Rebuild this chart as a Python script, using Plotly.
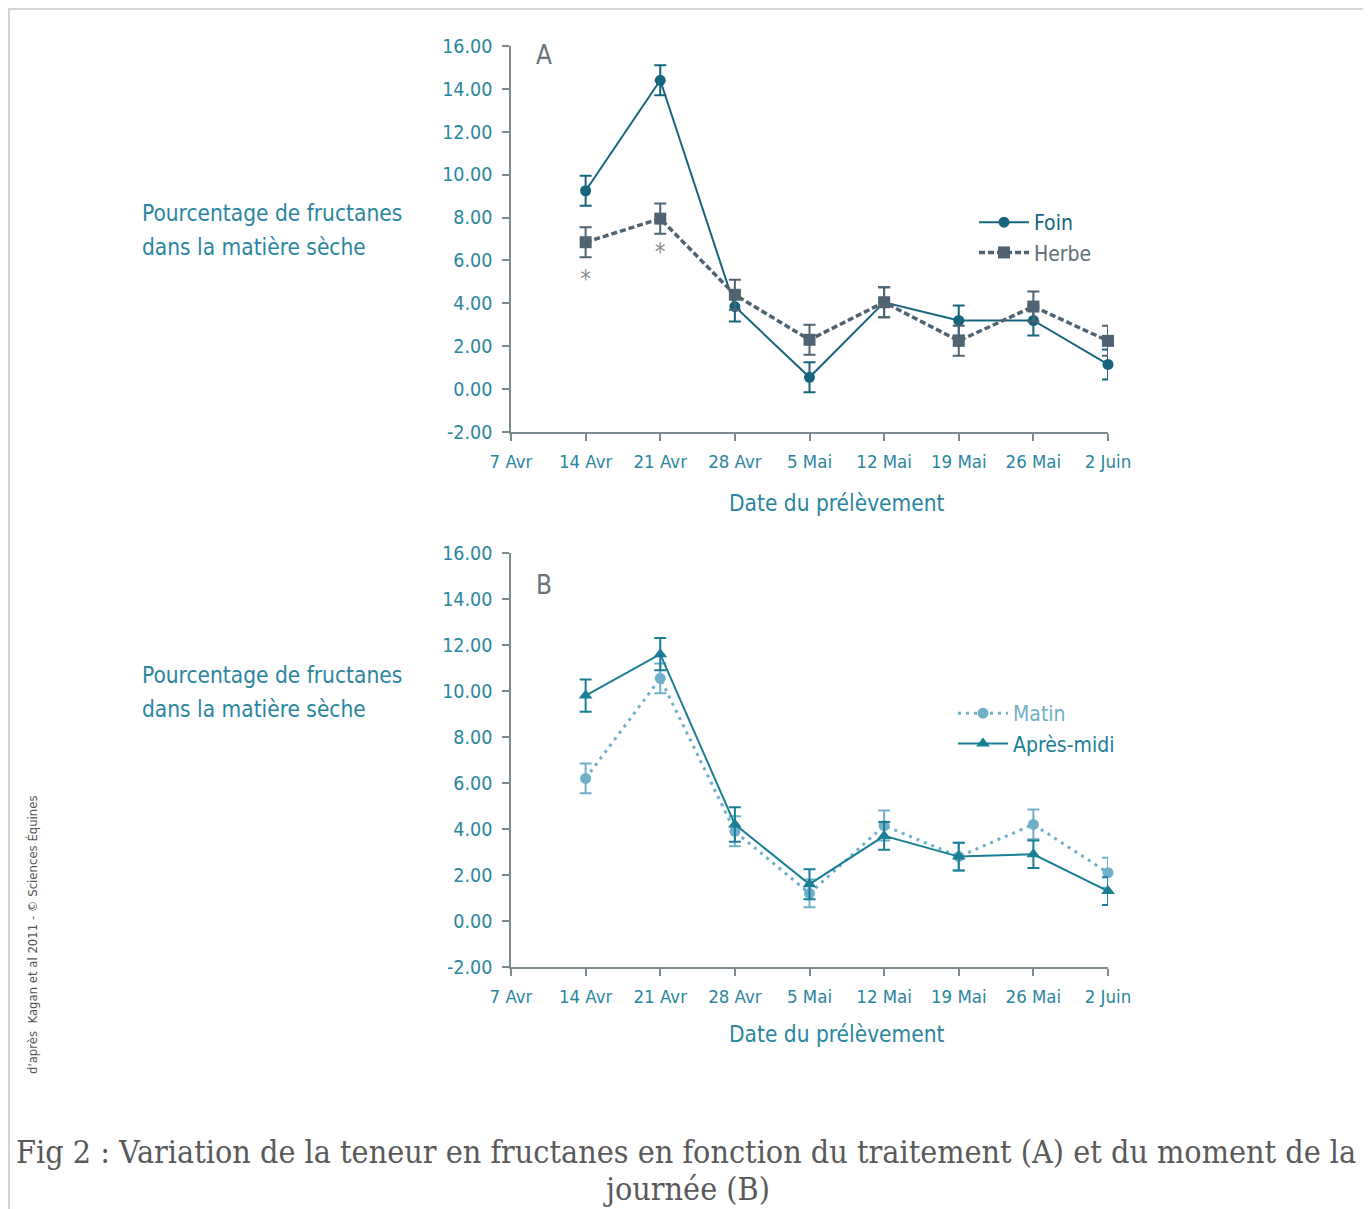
import plotly.graph_objects as go

# ---- data ----
dates = ["7 Avr", "14 Avr", "21 Avr", "28 Avr", "5 Mai", "12 Mai", "19 Mai", "26 Mai", "2 Juin"]
week_idx = [0, 1, 2, 3, 4, 5, 6, 7, 8]
sample_weeks = [1, 2, 3, 4, 5, 6, 7, 8]

foin = [9.25, 14.4, 3.85, 0.55, 4.05, 3.2, 3.2, 1.15]
foin_err = [0.7, 0.7, 0.7, 0.7, 0.7, 0.7, 0.7, 0.7]
herbe = [6.85, 7.95, 4.4, 2.3, 4.05, 2.25, 3.85, 2.25]
herbe_err = [0.7, 0.7, 0.7, 0.7, 0.7, 0.7, 0.7, 0.7]

matin = [6.2, 10.55, 3.9, 1.2, 4.15, 2.8, 4.2, 2.1]
matin_err = [0.65, 0.65, 0.65, 0.6, 0.65, 0.6, 0.65, 0.65]
apres = [9.8, 11.6, 4.2, 1.6, 3.7, 2.8, 2.9, 1.3]
apres_err = [0.7, 0.7, 0.75, 0.65, 0.6, 0.6, 0.6, 0.6]

star_x = [1, 2]
star_y = [5.05, 6.3]

y_ticks = [-2, 0, 2, 4, 6, 8, 10, 12, 14, 16]
y_ticktext = ["%.2f" % v for v in y_ticks]

# page offset (body margin) compensation
OX, OY = 8, 8
W, H = 1363, 1201
NARROW = "Liberation Sans Narrow, DejaVu Sans Condensed, Roboto, sans-serif"
SERIF = "DejaVu Serif Condensed, DejaVu Serif, serif"
TEAL = "#17657d"
TEAL_TXT = "#2a86a0"
GRAY = "#4f6470"
LIGHT = "#6fb0c8"
APM = "#1a7e96"
AXIS = "#7d8a90"


def px(x):
    return (x - OX) / W


def py(y):
    return 1 - (y - OY) / H


fig = go.Figure()


def add_series(name, y, err, color, symbol, size, dash, width, xaxis, yaxis, legend):
    fig.add_trace(go.Scatter(
        x=sample_weeks, y=y, name=name, mode="lines+markers",
        line=dict(color=color, width=width, dash=dash),
        marker=dict(color=color, symbol=symbol, size=size),
        error_y=dict(type="data", array=err, visible=True, color=color, thickness=2, width=6),
        xaxis=xaxis, yaxis=yaxis, legend=legend, cliponaxis=False,
    ))


add_series("<span style='color:%s'>Foin</span>" % TEAL, foin, foin_err, TEAL, "circle", 11, "solid", 2, "x", "y", "legend")
add_series("<span style='color:%s'>Herbe</span>" % "#5c6e78", herbe, herbe_err, GRAY, "square", 12, "6px,3px", 3.5, "x", "y", "legend")
add_series("<span style='color:%s'>Matin</span>" % LIGHT, matin, matin_err, LIGHT, "circle", 11, "3px,5px", 3, "x2", "y2", "legend2")
add_series("<span style='color:%s'>Après-midi</span>" % APM, apres, apres_err, APM, "triangle-up", 12, "solid", 2, "x2", "y2", "legend2")

# significance asterisks
fig.add_trace(go.Scatter(
    x=star_x, y=star_y, mode="text", text=["*", "*"],
    textfont=dict(family=NARROW, size=24, color="#8a8f92"),
    showlegend=False, xaxis="x", yaxis="y", cliponaxis=False,
))

xdom = [px(511), px(1108)]
common_x = dict(
    range=[0, 8], tickvals=week_idx, ticktext=dates, showline=True, linecolor=AXIS, linewidth=1.5,
    ticks="outside", ticklen=7, tickcolor=AXIS, tickwidth=1.5, showgrid=False, zeroline=False,
    tickfont=dict(family=NARROW, size=18.5, color=TEAL_TXT), ticklabelstandoff=5,
    domain=xdom, automargin=False,
)
common_y = dict(
    range=[-2, 16], tickvals=y_ticks, ticktext=y_ticktext, showline=True, linecolor=AXIS, linewidth=1.5,
    ticks="outside", ticklen=7, tickcolor=AXIS, tickwidth=1.5, showgrid=False, zeroline=False,
    tickfont=dict(family=NARROW, size=19.5, color=TEAL_TXT), ticklabelstandoff=6, automargin=False,
)

fig.update_layout(
    width=W, height=H, margin=dict(l=0, r=0, t=0, b=0, autoexpand=False),
    paper_bgcolor="white", plot_bgcolor="white",
    xaxis=dict(**common_x, anchor="y"),
    yaxis=dict(**common_y, domain=[py(432), py(46)], anchor="x"),
    xaxis2=dict(**common_x, anchor="y2"),
    yaxis2=dict(**common_y, domain=[py(967), py(553)], anchor="x2"),
    legend=dict(x=px(974), y=py(202), xanchor="left", yanchor="top", bgcolor="rgba(0,0,0,0)",
                font=dict(family=NARROW, size=21), itemwidth=50, tracegroupgap=0),
    legend2=dict(x=px(953), y=py(693), xanchor="left", yanchor="top", bgcolor="rgba(0,0,0,0)",
                 font=dict(family=NARROW, size=21), itemwidth=50, tracegroupgap=0),
    showlegend=True,
)

ann = []
for top in (213, 675):
    for i, line in enumerate(["Pourcentage de fructanes", "dans la matière sèche"]):
        ann.append(dict(text=line, x=px(140), y=py(top + 34 * i), xref="paper", yref="paper",
                        xanchor="left", yanchor="middle", align="left", showarrow=False,
                        font=dict(family=NARROW, size=22.5, color=TEAL_TXT)))
for ycen in (503, 1034):
    ann.append(dict(text="Date du prélèvement", x=px(837), y=py(ycen), xref="paper", yref="paper",
                    xanchor="center", yanchor="middle", showarrow=False,
                    font=dict(family=NARROW, size=22.5, color=TEAL_TXT)))
for lab, ycen in (("A", 55), ("B", 585)):
    ann.append(dict(text=lab, x=px(544), y=py(ycen), xref="paper", yref="paper",
                    xanchor="center", yanchor="middle", showarrow=False,
                    font=dict(family=NARROW, size=26, color="#6a7378")))
ann.append(dict(text="d'après  Kagan et al 2011 - © Sciences Équines", x=px(32), y=py(935),
                xref="paper", yref="paper", xanchor="center", yanchor="middle", showarrow=False,
                textangle=-90, font=dict(family=NARROW, size=13, color="#555555")))
ann.append(dict(text="Fig 2 : Variation de la teneur en fructanes en fonction du traitement (A) et du moment de la",
                x=px(686), y=py(1152), xref="paper", yref="paper", xanchor="center", yanchor="middle",
                showarrow=False, font=dict(family=SERIF, size=32, color="#5a5a5a")))
ann.append(dict(text="journée (B)", x=px(686), y=py(1189), xref="paper", yref="paper",
                xanchor="center", yanchor="middle", showarrow=False,
                font=dict(family=SERIF, size=32, color="#5a5a5a")))
fig.update_layout(annotations=ann)

fig.add_shape(type="rect", xref="paper", yref="paper", x0=px(9), x1=px(1365), y0=py(1230), y1=py(9),
              line=dict(color="#d6d6d6", width=2))

fig.write_html("out.html")
